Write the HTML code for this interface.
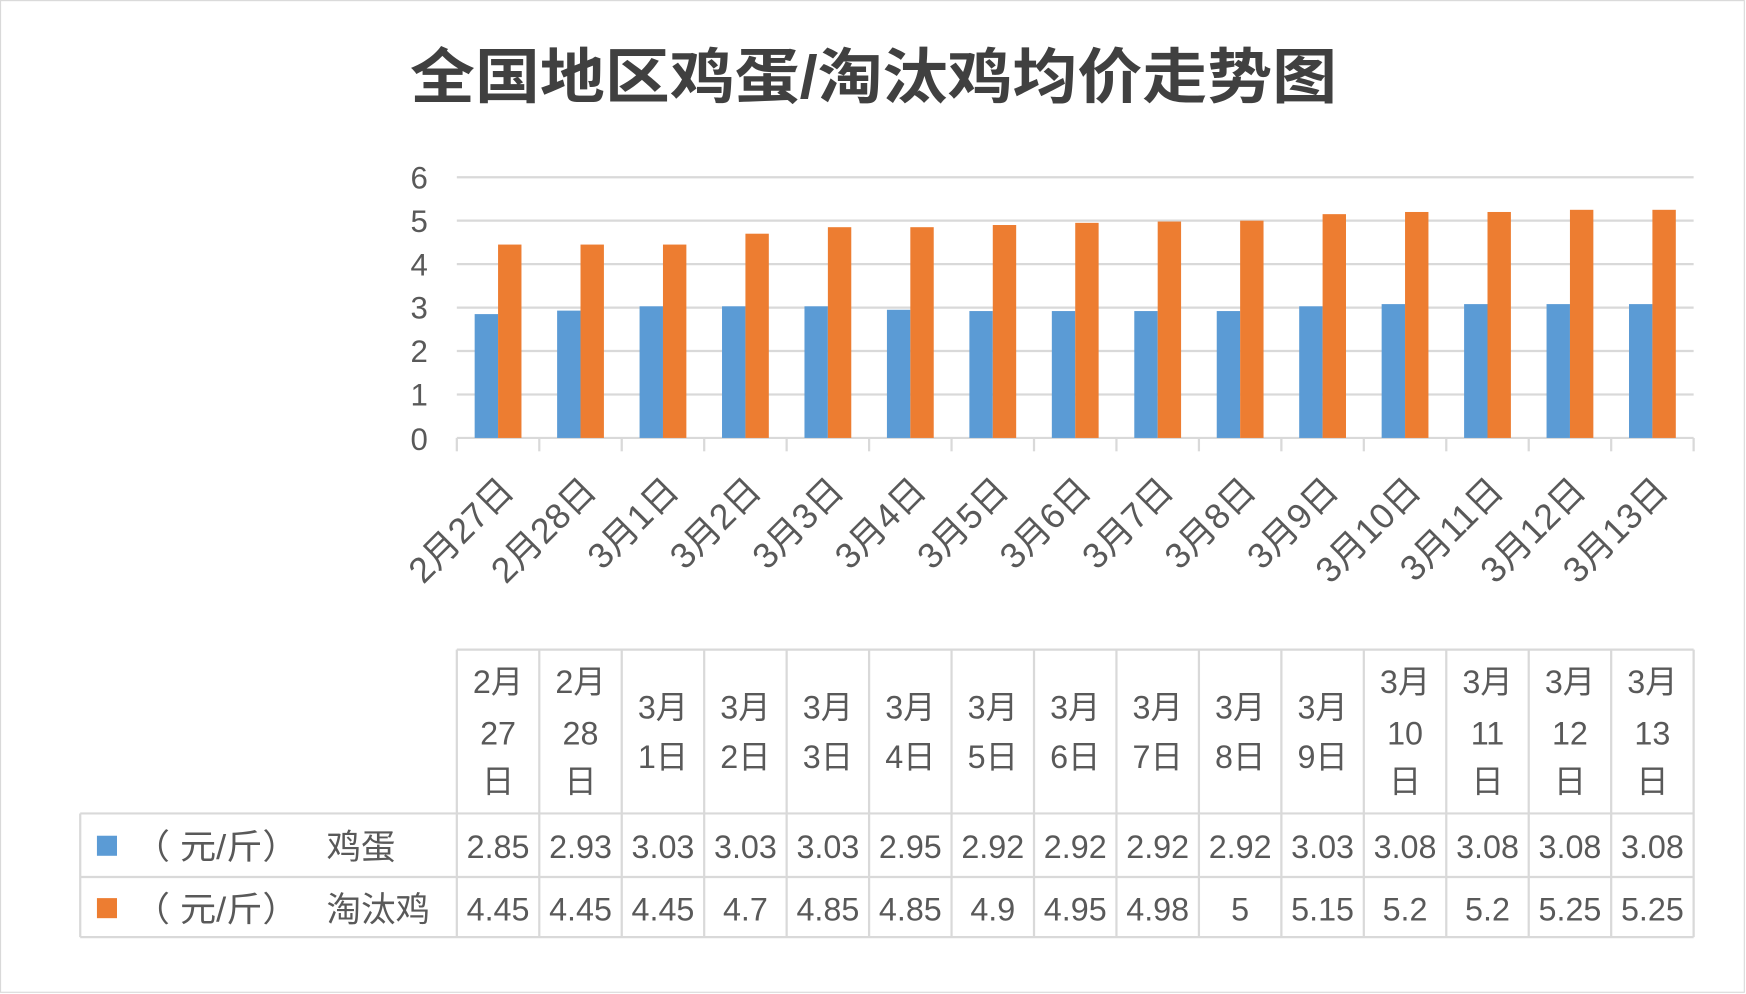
<!DOCTYPE html>
<html><head><meta charset="utf-8"><style>
html,body{margin:0;padding:0;background:#fff;}
svg{display:block;}
text{font-family:"Liberation Sans","Noto Sans CJK SC",sans-serif;fill:#595959;}
</style></head><body>
<svg width="1746" height="994" viewBox="0 0 1567 892" xmlns="http://www.w3.org/2000/svg">
<rect x="0.5" y="0.5" width="1565" height="890" fill="#fff" stroke="#d9d9d9"/>
<text x="368" y="88" textLength="832" lengthAdjust="spacingAndGlyphs" font-size="54" font-weight="600" style="fill:#404040">全国地区鸡蛋/淘汰鸡均价走势图</text>
<g id="grid" stroke="#d9d9d9" stroke-width="2">
<line x1="410" x2="1520" y1="159" y2="159"/>
<line x1="410" x2="1520" y1="198" y2="198"/>
<line x1="410" x2="1520" y1="237" y2="237"/>
<line x1="410" x2="1520" y1="276" y2="276"/>
<line x1="410" x2="1520" y1="315" y2="315"/>
<line x1="410" x2="1520" y1="354" y2="354"/>
<line x1="410" x2="1520" y1="393" y2="393"/>
</g>
<g font-size="28" text-anchor="end">
<text x="384" y="169">6</text><text x="384" y="208">5</text><text x="384" y="247">4</text>
<text x="384" y="286">3</text><text x="384" y="325">2</text><text x="384" y="364">1</text><text x="384" y="404">0</text>
</g>
<g id="bars"></g>
<g id="ticks" stroke="#d9d9d9" stroke-width="2"></g>
<g id="xl" font-size="32" text-anchor="end"></g>
<g id="tbl" stroke="#d9d9d9" stroke-width="2" fill="none"></g>
<g id="tt" font-size="29" text-anchor="middle"></g>
<rect x="87" y="750" width="18" height="18" fill="#5b9bd5"/>
<rect x="87" y="806" width="18" height="18" fill="#ed7d31"/>
<text x="120" y="771" font-size="31" textLength="148" lengthAdjust="spacingAndGlyphs">（ 元/斤）</text>
<text x="293" y="771" font-size="31">鸡蛋</text>
<text x="120" y="827" font-size="31" textLength="148" lengthAdjust="spacingAndGlyphs">（ 元/斤）</text>
<text x="293" y="827" font-size="31">淘汰鸡</text>
</svg>
<script>
var ns="http://www.w3.org/2000/svg";
function el(p,t,a,txt){var e=document.createElementNS(ns,t);for(var k in a)e.setAttribute(k,a[k]);if(txt!=null)e.textContent=txt;document.getElementById(p).appendChild(e);}
var L=["2月27日","2月28日","3月1日","3月2日","3月3日","3月4日","3月5日","3月6日","3月7日","3月8日","3月9日","3月10日","3月11日","3月12日","3月13日"];
var E=[2.85,2.93,3.03,3.03,3.03,2.95,2.92,2.92,2.92,2.92,3.03,3.08,3.08,3.08,3.08];
var H=[4.45,4.45,4.45,4.7,4.85,4.85,4.9,4.95,4.98,5,5.15,5.2,5.2,5.25,5.25];
var W=74,X0=410,Y0=393,U=39;
for(var i=0;i<15;i++){
 var x=X0+i*W;
 el("bars","rect",{x:x+16,y:Y0-E[i]*U,width:21,height:E[i]*U,fill:"#5b9bd5"});
 el("bars","rect",{x:x+37,y:Y0-H[i]*U,width:21,height:H[i]*U,fill:"#ed7d31"});
 var cx=x+37;
 el("xl","text",{x:cx+16,y:442,transform:"rotate(-45 "+(cx+16)+" 442)"},L[i]);
 var m=L[i].match(/(\d+月)(\d+)日/);
 if(m[2].length==2){
  el("tt","text",{x:cx,y:622},m[1]);el("tt","text",{x:cx,y:668},m[2]);el("tt","text",{x:cx,y:711},"日");
 } else {
  el("tt","text",{x:cx,y:645},m[1]);el("tt","text",{x:cx,y:689},m[2]+"日");
 }
 el("tt","text",{x:cx,y:770},String(E[i]));
 el("tt","text",{x:cx,y:826},String(H[i]));
}
for(var i=0;i<=15;i++){var x=X0+i*W;el("ticks","line",{x1:x,x2:x,y1:393,y2:405});
 el("tbl","line",{x1:x,x2:x,y1:583,y2:841});}
el("tbl","line",{x1:410,x2:1520,y1:583,y2:583});
el("tbl","line",{x1:72,x2:1520,y1:730,y2:730});
el("tbl","line",{x1:72,x2:1520,y1:787,y2:787});
el("tbl","line",{x1:72,x2:1520,y1:841,y2:841});
el("tbl","line",{x1:72,x2:72,y1:730,y2:841});
</script>
</body></html>
